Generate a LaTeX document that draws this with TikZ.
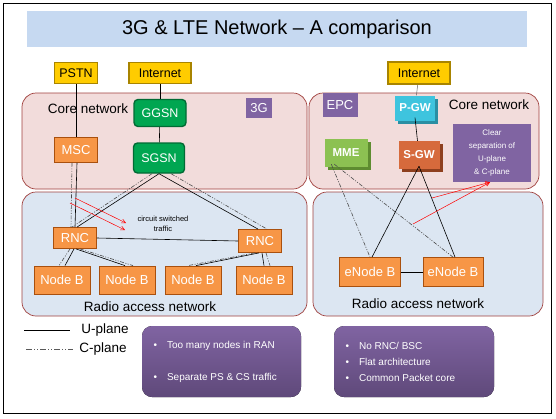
\documentclass[tikz,border=0pt]{standalone}
\usepackage{fontspec}
\setmainfont{Liberation Sans}
\usetikzlibrary{arrows.meta}

\definecolor{titleblue}{HTML}{C6D9F1}
\definecolor{corefill}{HTML}{F2DCDB}
\definecolor{ranfill}{HTML}{DCE6F2}
\definecolor{regionline}{HTML}{A0403D}
\definecolor{goldfill}{HTML}{FFCC00}
\definecolor{golddark}{HTML}{A88400}
\definecolor{gsngreen}{HTML}{00A651}
\definecolor{gsndark}{HTML}{006B34}
\definecolor{boxorange}{HTML}{F79646}
\definecolor{orangedark}{HTML}{A9500E}
\definecolor{lilac}{HTML}{8064A2}
\definecolor{lilacdark}{HTML}{5F497A}
\definecolor{pgwcyan}{HTML}{3EC4DE}
\definecolor{pgwside}{HTML}{2A8FA3}
\definecolor{mmegreen}{HTML}{8CC152}
\definecolor{mmeside}{HTML}{5E8C30}
\definecolor{sgwbrown}{HTML}{D66A3C}
\definecolor{sgwside}{HTML}{8E3F1E}

\tikzset{
	region/.style={draw=regionline, line width=0.7pt, rounded corners=14pt},
	gold/.style={draw=golddark, fill=goldfill, line width=1.2pt, inner sep=0pt, minimum height=21pt, font=\fontsize{12.5}{14}\selectfont},
	gsn/.style={draw=gsndark, fill=gsngreen, line width=1.4pt, rounded corners=4pt, inner sep=0pt, text=white, font=\fontsize{12.5}{14}\selectfont},
	orangebox/.style={draw=orangedark, fill=boxorange, line width=0.8pt, inner sep=0pt, text=white, font=\fontsize{13}{15}\selectfont},
	cube/.style={inner sep=0pt, text=white, font=\fontsize{11.5}{13}\bfseries},
	tag/.style={fill=lilac, inner sep=0pt, text=white, font=\fontsize{13}{15}\selectfont},
	label/.style={font=\fontsize{13.5}{16}\selectfont},
	uplane/.style={black, line width=0.6pt},
	cplane/.style={black!70, line width=0.6pt, dash pattern=on 4pt off 1.5pt on 1pt off 1.5pt on 1pt off 1.5pt},
	redarrow/.style={red, line width=0.5pt, -{Straight Barb[length=4pt,width=4pt]}},
	notebox/.style={rounded corners=10pt, top color=lilac, bottom color=lilacdark, draw=none},
	note/.style={anchor=west, text=white, font=\fontsize{10}{12}\selectfont}
}

\begin{document}
\begin{tikzpicture}[x=1pt,y=-1pt]

	\useasboundingbox (0,0) rectangle (556,418);
	\draw[line width=0.8pt] (3,3) rectangle (551,413);

	% title
	\fill[titleblue] (27,11) rectangle (527,47);
	\node[font=\fontsize{20}{24}\selectfont] (title) at (277,29) {3G \& LTE Network -- A comparison};

	% regions
	\draw[region, fill=corefill] (22,93) rectangle (307,189);
	\draw[region, fill=ranfill] (22,192) rectangle (307,316);
	\draw[region, fill=corefill] (309,93) rectangle (539,189);
	\draw[region, fill=ranfill] (313,192) rectangle (543,316);

	\node[label] (core3g) at (88,109) {Core network};
	\node[label] (corelte) at (489,105) {Core network};
	\node[label] (ran3g) at (150,307) {Radio access network};
	\node[label] (ranlte) at (418,304) {Radio access network};

	\node[tag, minimum width=26pt, minimum height=20pt] (tg) at (259,108) {3G};
	\node[tag, minimum width=35pt, minimum height=24pt] (epc) at (340,105) {EPC};

	% 3G nodes
	\node[gold, minimum width=43pt] (pstn) at (76,73) {PSTN};
	\node[gold, minimum width=62pt] (inetl) at (160,73) {Internet};
	\node[gsn, minimum width=52pt, minimum height=27pt] (ggsn) at (160,113) {GGSN};
	\node[gsn, minimum width=51pt, minimum height=30pt] (sgsn) at (159,158) {SGSN};
	\node[orangebox, minimum width=43pt, minimum height=25pt] (msc) at (76,150) {MSC};
	\node[orangebox, minimum width=43pt, minimum height=21pt] (rncl) at (75,238) {RNC};
	\node[orangebox, minimum width=43pt, minimum height=23pt] (rncr) at (260,241) {RNC};
	\node[orangebox, minimum width=56pt, minimum height=28pt] (nb1) at (62,280) {Node B};
	\node[orangebox, minimum width=56pt, minimum height=28pt] (nb2) at (127,280) {Node B};
	\node[orangebox, minimum width=56pt, minimum height=28pt] (nb3) at (193,280) {Node B};
	\node[orangebox, minimum width=56pt, minimum height=28pt] (nb4) at (264,280) {Node B};

	% LTE nodes, side faces first
	\fill[pgwside] (398,98.5) rectangle (438,123.5);
	\fill[mmeside] (327.5,142) rectangle (370.5,170);
	\fill[sgwside] (401.5,144) rectangle (442.5,172);
	\node[gold, minimum width=62pt, minimum height=22pt] (inetr) at (419,73) {Internet};
	\node[cube, fill=pgwcyan, minimum width=40pt, minimum height=25pt] (pgw) at (415,108) {P-GW};
	\node[cube, fill=mmegreen, minimum width=43pt, minimum height=28pt] (mme) at (346,153) {MME};
	\node[cube, fill=sgwbrown, minimum width=41pt, minimum height=28pt] (sgw) at (419,155) {S-GW};
	\node[fill=lilac, minimum width=78pt, minimum height=58pt, inner sep=0pt, align=center,
		text=white, font=\fontsize{8}{13}\selectfont] (sep) at (492,153) {Clear\\separation of\\U-plane\\\& C-plane};
	\node[orangebox, minimum width=61pt, minimum height=29pt] (enbl) at (370,272) {eNode B};
	\node[orangebox, minimum width=60pt, minimum height=29pt] (enbr) at (453,272) {eNode B};

	% 3G links
	\draw[uplane] (pstn) -- (msc);
	\draw[uplane] (inetl) -- (ggsn);
	\draw[uplane] (ggsn) -- (sgsn);
	\draw[uplane] ([xshift=1pt]msc.south) -- ([xshift=0pt]rncl.north);
	\draw[cplane] ([xshift=-4pt]msc.south) -- ([xshift=-4pt]rncl.north);
	\draw[uplane] (sgsn.south) -- ([xshift=2pt]rncl.north);
	\draw[cplane] ([xshift=-7pt]sgsn.south) -- ([xshift=-3pt]rncl.north);
	\draw[uplane] (sgsn.south) -- ([xshift=-2pt]rncr.north);
	\draw[cplane] ([xshift=12pt]sgsn.south) -- ([xshift=7pt]rncr.north);
	\draw[uplane] (rncl.east) -- (rncr.west);
	\draw[uplane] ([xshift=-1pt]rncl.south) -- ([xshift=3pt]nb1.north);
	\draw[cplane] ([xshift=-5pt]rncl.south) -- ([xshift=-3pt]nb1.north);
	\draw[uplane] ([xshift=1pt]rncl.south) -- ([xshift=-2pt]nb2.north);
	\draw[cplane] ([xshift=5pt]rncl.south) -- ([xshift=6pt]nb2.north);
	\draw[uplane] ([xshift=-1pt]rncr.south) -- ([xshift=3pt]nb3.north);
	\draw[cplane] ([xshift=-5pt]rncr.south) -- ([xshift=-5pt]nb3.north);
	\draw[uplane] ([xshift=2pt]rncr.south) -- ([xshift=0pt]nb4.north);
	\draw[cplane] ([xshift=6pt]rncr.south) -- ([xshift=6pt]nb4.north);

	\coordinate (csa) at (75,198);
	\coordinate (csb) at (70,203);
	\draw[redarrow] (csa) -- (126,223);
	\draw[redarrow] (csb) -- (125,230);
	\node[align=center, font=\fontsize{7.5}{10}\selectfont] (cstext) at (163,224) {circuit switched\\traffic};

	% LTE links
	\draw[black!60, line width=0.5pt] (inetr) -- (pgw);
	\draw[uplane] ([yshift=3pt]pgw.south) -- (sgw);
	\draw[cplane] ([xshift=7pt,yshift=3pt]mme.south west) -- ([xshift=0pt]enbl.north);
	\draw[cplane] ([xshift=10pt,yshift=3pt]mme.south west) -- ([xshift=0pt]enbr.north);
	\draw[uplane] ([yshift=3pt]sgw.south) -- ([xshift=2pt]enbl.north);
	\draw[uplane] ([yshift=3pt]sgw.south) -- ([xshift=2pt]enbr.north);
	\draw[uplane] (enbl) -- (enbr);

	\coordinate (spa) at (432,198);
	\coordinate (spb) at (413,224);
	\draw[redarrow] (spa) -- ([xshift=-2pt]sep.south);
	\draw[redarrow] (spb) -- ([xshift=-2pt]sep.south);

	% legend
	\coordinate (ua) at (24,330);
	\coordinate (ub) at (70,330);
	\coordinate (ca) at (26,349);
	\coordinate (cb) at (73,349);
	\draw[uplane] (ua) -- (ub);
	\draw[cplane, line width=0.9pt, black!65, dash pattern=on 6pt off 2pt on 1pt off 2pt on 1pt off 2pt] (ca) -- (cb);
	\node[label] (ulab) at (105,330) {U-plane};
	\node[label] (clab) at (103,349) {C-plane};

	% notes
	\fill[notebox] (142,326) rectangle (301,397);
	\fill[notebox] (334,326) rectangle (494,397);
	\node[note] (n1) at (150,346) {\textbullet\hspace{10pt}Too many nodes in RAN};
	\node[note] (n2) at (150,378) {\textbullet\hspace{10pt}Separate PS \& CS traffic};
	\node[note] (n3) at (342,346) {\textbullet\hspace{10pt}No RNC/ BSC};
	\node[note] (n4) at (342,362) {\textbullet\hspace{10pt}Flat architecture};
	\node[note] (n5) at (342,378) {\textbullet\hspace{10pt}Common Packet core};

\end{tikzpicture}
\end{document}
